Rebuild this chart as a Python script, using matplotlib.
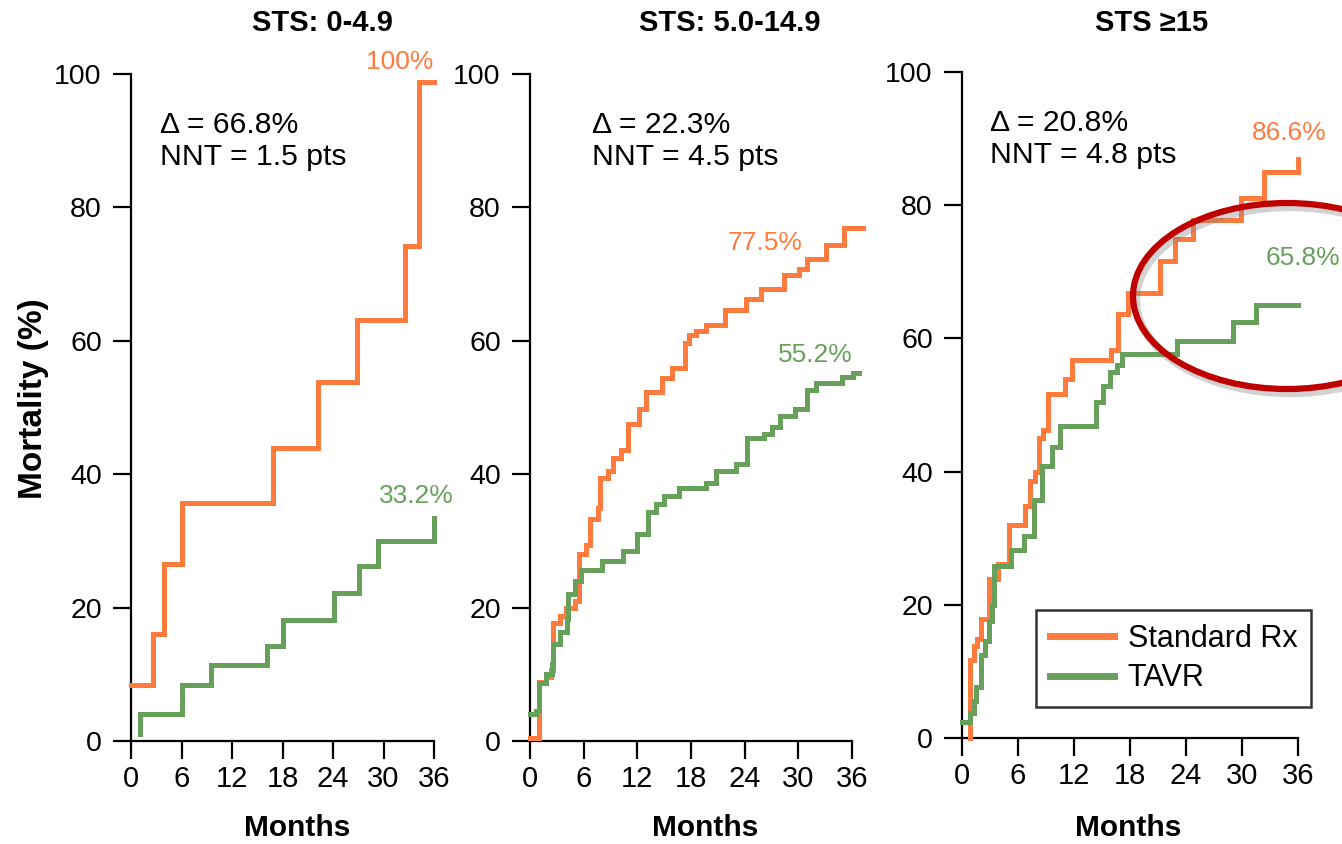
import matplotlib
matplotlib.use('Agg')
import matplotlib.pyplot as plt
from matplotlib.patches import Ellipse

# colours
ORANGE = '#FF7A3D'
GREEN = '#66A05A'

# panel titles and stats text
titles = ['STS: 0-4.9', 'STS: 5.0-14.9', 'STS \u226515']
delta_txt = ['\u0394 = 66.8%', '\u0394 = 22.3%', '\u0394 = 20.8%']
nnt_txt = ['NNT = 1.5 pts', 'NNT = 4.5 pts', 'NNT = 4.8 pts']
x_ticks = [0, 6, 12, 18, 24, 30, 36]
y_ticks = [0, 20, 40, 60, 80, 100]

# panel 1: STS 0-4.9
std1_t = [0, 2.6, 3.9, 6.0, 16.9, 22.2, 26.9, 32.6, 34.2, 36]
std1_v = [8.4, 16.0, 26.5, 35.7, 44.0, 53.8, 63.1, 74.2, 98.8, 98.8]
tavr1_t = [1.1, 1.1, 6.0, 9.5, 16.2, 18.1, 24.1, 27.1, 29.4, 36]
tavr1_v = [1.0, 4.1, 8.4, 11.4, 14.3, 18.1, 22.2, 26.3, 30.0, 33.5]

# panel 2: STS 5.0-14.9
std2_t = [0, 1.04, 1.8, 2.35, 2.6, 3.3, 4.0, 5.0, 5.45, 6.3, 6.7, 7.6, 7.85, 8.7, 9.3,
          10.2, 11.0, 12.2, 13.0, 14.8, 15.9, 17.3, 17.8, 18.6, 19.7, 21.8, 24.2,
          25.8, 28.4, 30.1, 31.0, 33.1, 35.1, 37.2]
std2_v = [0.5, 8.8, 9.6, 10.6, 17.7, 18.7, 20.0, 21.0, 28.0, 29.4, 33.3, 35.0, 39.4, 40.5,
          42.5, 43.6, 47.6, 49.8, 52.3, 54.4, 55.9, 59.7, 60.9, 61.4, 62.3, 64.6, 66.2,
          67.7, 69.9, 70.7, 72.2, 74.4, 76.9, 76.9]
tavr2_t = [0, 0.67, 1.04, 1.8, 2.46, 2.6, 3.3, 4.1, 4.2, 5.0, 5.7, 8.1, 10.4, 12.0, 13.2,
           14.1, 15.0, 16.7, 19.7, 20.8, 23.0, 24.3, 26.2, 27.1, 27.9, 29.6, 31.0, 32.0,
           34.9, 36.1, 36.8]
tavr2_v = [4.0, 4.5, 8.7, 10.0, 11.5, 14.6, 16.4, 18.3, 22.1, 24.0, 25.6, 27.0, 28.5, 31.0,
           34.4, 35.6, 36.7, 38.0, 38.7, 40.5, 41.6, 45.4, 46.0, 47.1, 48.8, 49.8, 52.6,
           53.7, 54.5, 55.2, 55.2]

# panel 3: STS >=15
std3_t = [0.9, 0.9, 1.25, 1.6, 2.07, 2.85, 3.9, 5.0, 6.8, 7.3, 7.8, 8.2, 8.7, 9.2, 11.0,
          11.8, 16.0, 16.7, 17.8, 21.2, 22.8, 24.8, 29.9, 32.4, 36.0]
std3_v = [0, 11.7, 13.8, 14.8, 17.9, 23.8, 26.2, 32.0, 34.8, 38.6, 40.0, 45.1, 46.3, 51.7,
          53.9, 56.8, 58.2, 63.7, 66.8, 71.6, 74.9, 77.8, 81.1, 85.0, 87.0]
tavr3_t = [0, 0.9, 1.25, 1.5, 2.07, 2.5, 2.9, 3.2, 3.4, 5.3, 6.6, 7.7, 8.6, 9.6, 10.5,
           14.4, 15.1, 15.9, 16.6, 17.1, 23.0, 29.0, 31.5, 36.0]
tavr3_v = [2.4, 3.8, 5.5, 7.6, 12.4, 14.5, 17.5, 20.0, 25.9, 28.2, 30.3, 35.8, 40.9, 43.7,
           46.8, 50.4, 52.9, 55.0, 56.0, 57.6, 59.6, 62.5, 65.0, 65.0]

# end-point labels: (text, x, y)
std_labels = [('100%', 31.9, 101.8), ('77.5%', 26.3, 74.7), ('86.6%', 35.1, 90.8)]
tavr_labels = [('33.2%', 33.9, 36.7), ('55.2%', 31.9, 57.9), ('65.8%', 36.5, 72.1)]

stats_x = [3.4, 6.9, 3.0]

W, H = 1342, 844
fig = plt.figure(figsize=(W / 100, H / 100), dpi=100)

plt.rcParams['font.family'] = ['Liberation Sans', 'DejaVu Sans']

# axes boxes in pixels: left, right, top(100), bottom(0)
boxes = [(131, 434, 74, 741), (530, 852, 74, 741), (962, 1298, 72, 738)]
title_x = [322, 730, 1152]
months_x = [297, 705, 1128]

std_data = [(std1_t, std1_v), (std2_t, std2_v), (std3_t, std3_v)]
tavr_data = [(tavr1_t, tavr1_v), (tavr2_t, tavr2_v), (tavr3_t, tavr3_v)]

axes = []
for i, (l, r, t, b) in enumerate(boxes):
    ax = fig.add_axes([l / W, 1 - b / H, (r - l) / W, (b - t) / H])
    axes.append(ax)
    ax.step(std_data[i][0], std_data[i][1], where='post', color=ORANGE, lw=3.6,
            clip_on=False, solid_joinstyle='miter', label='Standard Rx', zorder=3)
    ax.step(tavr_data[i][0], tavr_data[i][1], where='post', color=GREEN, lw=3.6,
            clip_on=False, solid_joinstyle='miter', label='TAVR', zorder=3)
    ax.set_xlim(0, 36)
    ax.set_ylim(0, 100)
    ax.set_xticks(x_ticks)
    ax.set_yticks(y_ticks)
    for s in ['top', 'right']:
        ax.spines[s].set_visible(False)
    for s in ['left', 'bottom']:
        ax.spines[s].set_linewidth(1.6)
    ax.tick_params(direction='out', length=13, width=1.6)
    ax.tick_params(axis='y', labelsize=20.5, pad=8)
    ax.tick_params(axis='x', labelsize=21, pad=4)
    ax.text(stats_x[i], 91.2, delta_txt[i], fontsize=21.7, va='baseline', ha='left')
    ax.text(stats_x[i], 86.4, nnt_txt[i], fontsize=21.7, va='baseline', ha='left')
    tx, x_, y_ = std_labels[i]
    ax.text(x_, y_, tx, color=ORANGE, fontsize=19, ha='center', va='center', clip_on=False)
    tx, x_, y_ = tavr_labels[i]
    ax.text(x_, y_, tx, color=GREEN, fontsize=19, ha='center', va='center', clip_on=False)
    fig.text(title_x[i] / W, 1 - 23 / H, titles[i], fontsize=21, fontweight='bold',
             ha='center', va='center')
    fig.text(months_x[i] / W, 1 - 828 / H, 'Months', fontsize=21.5, fontweight='bold',
             ha='center', va='center')

fig.text(34 / W, 1 - 399 / H, 'Mortality (%)', fontsize=24, fontweight='bold',
         rotation=90, ha='center', va='center')

leg = axes[2].legend(loc='lower left', bbox_to_anchor=(0.220, 0.0465), fontsize=22,
                     frameon=True, fancybox=False, edgecolor='black', handlelength=2.1,
                     handletextpad=0.45, borderpad=0.45, labelspacing=0.3,
                     borderaxespad=0)
leg.get_frame().set_linewidth(1.8)
for line in leg.get_lines():
    line.set_linewidth(5)

# red highlight ellipse (with soft shadow)
cx, cy = 1287 / 100, (H - 296) / 100
shadow = Ellipse((cx + 0.03, cy - 0.04), 3.08, 1.86, transform=fig.dpi_scale_trans,
                 fill=False, edgecolor='grey', lw=6, alpha=0.35)
ring = Ellipse((cx, cy), 3.08, 1.86, transform=fig.dpi_scale_trans,
               fill=False, edgecolor='#BE0000', lw=4.5)
fig.add_artist(shadow)
fig.add_artist(ring)

fig.savefig('out.png', dpi=100)
